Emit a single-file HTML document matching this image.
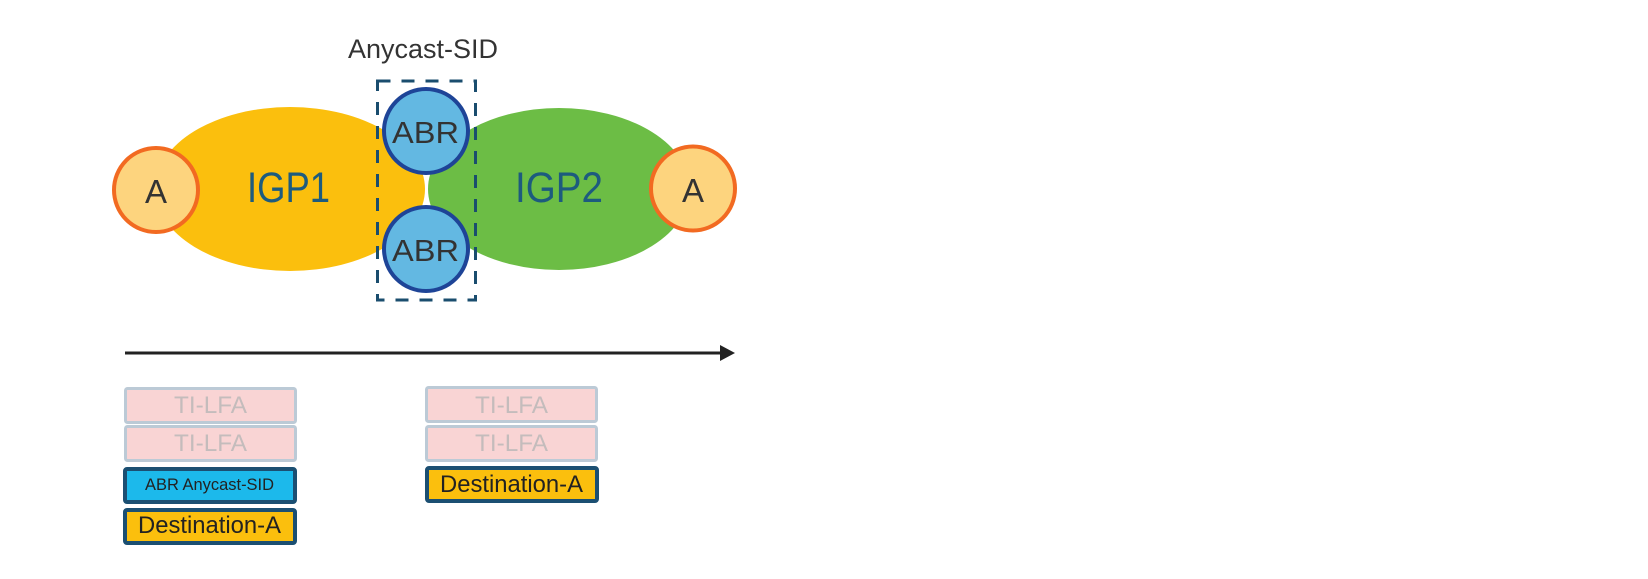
<!DOCTYPE html>
<html>
<head>
<meta charset="utf-8">
<style>
  html,body{margin:0;padding:0;background:#fff;}
  svg{display:block;}
  text{font-family:"Liberation Sans", sans-serif;}
</style>
</head>
<body>
<svg width="1648" height="579" viewBox="0 0 1648 579" xmlns="http://www.w3.org/2000/svg">
  <rect x="0" y="0" width="1648" height="579" fill="#ffffff"/>

  <!-- Title -->
  <text x="348" y="58" font-size="27" fill="#333333" textLength="150" lengthAdjust="spacingAndGlyphs">Anycast-SID</text>

  <!-- Yellow IGP1 ellipse -->
  <ellipse cx="290" cy="189" rx="135" ry="82" fill="#fbbf0d"/>
  <!-- Green IGP2 ellipse -->
  <ellipse cx="559" cy="189" rx="132" ry="82" fill="#6cbd45" stroke="#ffffff" stroke-width="2"/>

  <text x="247" y="202" font-size="43" fill="#1d5b7e" textLength="83" lengthAdjust="spacingAndGlyphs">IGP1</text>
  <text x="515" y="202" font-size="43" fill="#1d5b7e" textLength="88" lengthAdjust="spacingAndGlyphs">IGP2</text>

  <!-- A circles -->
  <circle cx="156" cy="190" r="42" fill="#fdd47e" stroke="#f26a21" stroke-width="4"/>
  <text x="156" y="203" font-size="33" fill="#333333" text-anchor="middle">A</text>
  <circle cx="693" cy="188.5" r="42" fill="#fdd47e" stroke="#f26a21" stroke-width="4"/>
  <text x="693" y="202" font-size="33" fill="#333333" text-anchor="middle">A</text>

  <!-- ABR circles -->
  <circle cx="426" cy="131" r="42" fill="#63b8e2" stroke="#1e4497" stroke-width="4"/>
  <text x="392" y="143" font-size="31" fill="#333333" textLength="67" lengthAdjust="spacingAndGlyphs">ABR</text>
  <circle cx="426" cy="249" r="42" fill="#63b8e2" stroke="#1e4497" stroke-width="4"/>
  <text x="392" y="261" font-size="31" fill="#333333" textLength="67" lengthAdjust="spacingAndGlyphs">ABR</text>

  <!-- Dashed anycast box -->
  <rect x="377.5" y="81" width="98" height="219" fill="none" stroke="#1a4d6e" stroke-width="3" stroke-dasharray="13 11"/>

  <!-- Arrow -->
  <line x1="125" y1="353" x2="723" y2="353" stroke="#222222" stroke-width="3"/>
  <polygon points="720,345 735,353 720,361" fill="#222222"/>

  <!-- Left column stack -->
  <rect x="125.5" y="388.5" width="170" height="34" rx="2" fill="#f9d4d4" stroke="#bccad6" stroke-width="3"/>
  <text x="210.5" y="413" font-size="24" fill="#c4bcbc" text-anchor="middle" textLength="73" lengthAdjust="spacingAndGlyphs">TI-LFA</text>
  <rect x="125.5" y="426.5" width="170" height="34" rx="2" fill="#f9d4d4" stroke="#bccad6" stroke-width="3"/>
  <text x="210.5" y="451" font-size="24" fill="#c4bcbc" text-anchor="middle" textLength="73" lengthAdjust="spacingAndGlyphs">TI-LFA</text>
  <rect x="125" y="469" width="170" height="33" rx="2" fill="#1cb9eb" stroke="#1b4f72" stroke-width="4"/>
  <text x="209.5" y="490" font-size="17" fill="#222222" text-anchor="middle" textLength="129" lengthAdjust="spacingAndGlyphs">ABR Anycast-SID</text>
  <rect x="125" y="510" width="170" height="33" rx="2" fill="#fbbf0d" stroke="#1b4f72" stroke-width="4"/>
  <text x="209.5" y="533" font-size="24" fill="#222222" text-anchor="middle" textLength="143" lengthAdjust="spacingAndGlyphs">Destination-A</text>

  <!-- Right column stack -->
  <rect x="426.5" y="387.5" width="170" height="34" rx="2" fill="#f9d4d4" stroke="#bccad6" stroke-width="3"/>
  <text x="511.5" y="413" font-size="24" fill="#c4bcbc" text-anchor="middle" textLength="73" lengthAdjust="spacingAndGlyphs">TI-LFA</text>
  <rect x="426.5" y="426.5" width="170" height="34" rx="2" fill="#f9d4d4" stroke="#bccad6" stroke-width="3"/>
  <text x="511.5" y="451" font-size="24" fill="#c4bcbc" text-anchor="middle" textLength="73" lengthAdjust="spacingAndGlyphs">TI-LFA</text>
  <rect x="427" y="468" width="170" height="33" rx="2" fill="#fbbf0d" stroke="#1b4f72" stroke-width="4"/>
  <text x="511.5" y="492" font-size="24" fill="#222222" text-anchor="middle" textLength="143" lengthAdjust="spacingAndGlyphs">Destination-A</text>
</svg>
</body>
</html>
